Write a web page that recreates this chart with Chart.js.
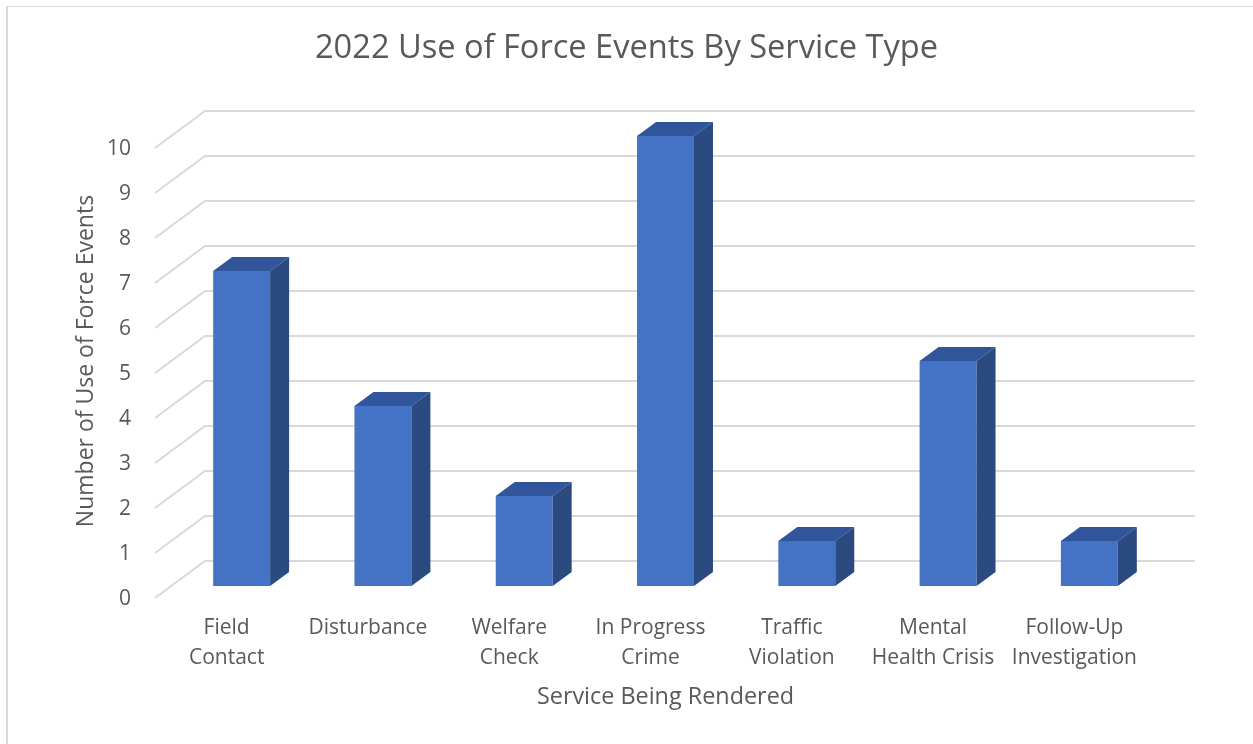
<!DOCTYPE html>
<html>
<head>
<meta charset="utf-8">
<script src="https://cdn.jsdelivr.net/npm/chart.js@4"></script>
<style>
  html, body { margin: 0; padding: 0; background: #ffffff; overflow: hidden; }
  #wrap { width: 1253px; height: 744px; }
</style>
</head>
<body>
<div id="wrap"><canvas id="chart" width="1253" height="744"></canvas></div>
<script>
// Service categories (multi-line labels) and event counts
const categories = [
  ['Field', 'Contact'],
  ['Disturbance'],
  ['Welfare', 'Check'],
  ['In Progress', 'Crime'],
  ['Traffic', 'Violation'],
  ['Mental', 'Health Crisis'],
  ['Follow-Up', 'Investigation']
];
const eventCounts = [7, 4, 2, 10, 1, 5, 1];
const yTicks = [0, 1, 2, 3, 4, 5, 6, 7, 8, 9, 10];

const FONT = "'Open Sans', 'Noto Sans', sans-serif";
const TEXT = '#595959';
const GRID = '#d9d9d9';
const FRONT = '#4472C4';
const TOP = '#30559A';
const SIDE = '#2A4A80';

// Depth of the pseudo-3D box
const DEPTH_X = 19, DEPTH_Y = -14;

// Back wall gridlines with the floor/side-wall diagonals
const wallPlugin = {
  id: 'wall',
  beforeDraw(chart) {
    const ctx = chart.ctx;
    ctx.save();
    ctx.strokeStyle = GRID;
    ctx.lineWidth = 1;
    ctx.beginPath();
    ctx.moveTo(6, 6.5); ctx.lineTo(chart.width, 6.5);
    ctx.stroke();
    ctx.lineWidth = 2;
    ctx.beginPath();
    ctx.moveTo(7, 6); ctx.lineTo(7, chart.height);
    ctx.stroke();
    ctx.restore();
  },
  beforeDatasetsDraw(chart) {
    const ctx = chart.ctx;
    const y = chart.scales.y;
    ctx.save();
    ctx.strokeStyle = GRID;
    ctx.lineWidth = 2;
    yTicks.forEach(v => {
      const py = y.getPixelForValue(v);
      ctx.beginPath();
      ctx.moveTo(155, py + 12);
      ctx.lineTo(205, py - 25);
      ctx.lineTo(1195, py - 25);
      ctx.stroke();
    });
    ctx.restore();
  },
  afterDatasetsDraw(chart) {
    const ctx = chart.ctx;
    const meta = chart.getDatasetMeta(0);
    ctx.save();
    meta.data.forEach(bar => {
      const w = bar.width;
      const l = bar.x - w / 2, r = bar.x + w / 2;
      const t = bar.y, b = bar.base;
      // top face
      ctx.fillStyle = TOP;
      ctx.beginPath();
      ctx.moveTo(l, t);
      ctx.lineTo(l + DEPTH_X, t + DEPTH_Y);
      ctx.lineTo(r + DEPTH_X, t + DEPTH_Y);
      ctx.lineTo(r, t);
      ctx.closePath();
      ctx.fill();
      // side face
      ctx.fillStyle = SIDE;
      ctx.beginPath();
      ctx.moveTo(r, t);
      ctx.lineTo(r + DEPTH_X, t + DEPTH_Y);
      ctx.lineTo(r + DEPTH_X, b + DEPTH_Y);
      ctx.lineTo(r, b);
      ctx.closePath();
      ctx.fill();
    });
    ctx.restore();
  }
};

new Chart(document.getElementById('chart'), {
  type: 'bar',
  data: {
    labels: categories,
    datasets: [{
      data: eventCounts,
      backgroundColor: FRONT,
      borderWidth: 0,
      barPercentage: 0.403,
      categoryPercentage: 1.0
    }]
  },
  options: {
    responsive: false,
    devicePixelRatio: 1,
    animation: false,
    layout: { padding: 0 },
    plugins: {
      legend: { display: false },
      tooltip: { enabled: false },
      title: {
        display: true,
        text: '2022 Use of Force Events By Service Type',
        color: TEXT,
        font: { family: FONT, size: 32.6, weight: 'normal', lineHeight: 1.2 },
        padding: { top: 29, bottom: 67.9 }
      }
    },
    scales: {
      x: {
        grid: { display: false, drawTicks: false, tickLength: 0 },
        border: { display: false },
        ticks: {
          color: TEXT,
          font: { family: FONT, size: 21, lineHeight: 1.43 },
          padding: 27,
          labelOffset: -15,
          maxRotation: 0,
          autoSkip: false
        },
        title: {
          display: true,
          text: 'Service Being Rendered',
          color: TEXT,
          font: { family: FONT, size: 23.4, lineHeight: 1.2 },
          padding: { top: 0, bottom: 33 }
        },
        afterFit(scale) { scale.height = 158; }
      },
      y: {
        min: 0,
        max: 10,
        grid: { display: false, drawTicks: false, tickLength: 0 },
        border: { display: false },
        ticks: {
          stepSize: 1,
          color: TEXT,
          font: { family: FONT, size: 21 },
          padding: 40,
          labelOffset: 13
        },
        title: {
          display: true,
          text: 'Number of Use of Force Events',
          color: TEXT,
          font: { family: FONT, size: 23, lineHeight: 1.2 },
          padding: { top: 73, bottom: 0 }
        },
        afterFit(scale) { scale.width = 171; }
      },
      // empty right-hand margin so the title centres on the whole canvas
      yRight: {
        position: 'right',
        display: true,
        grid: { display: false, drawTicks: false },
        border: { display: false },
        ticks: { display: false },
        afterFit(scale) { scale.width = 93; }
      }
    }
  },
  plugins: [wallPlugin]
});
</script>
</body>
</html>
